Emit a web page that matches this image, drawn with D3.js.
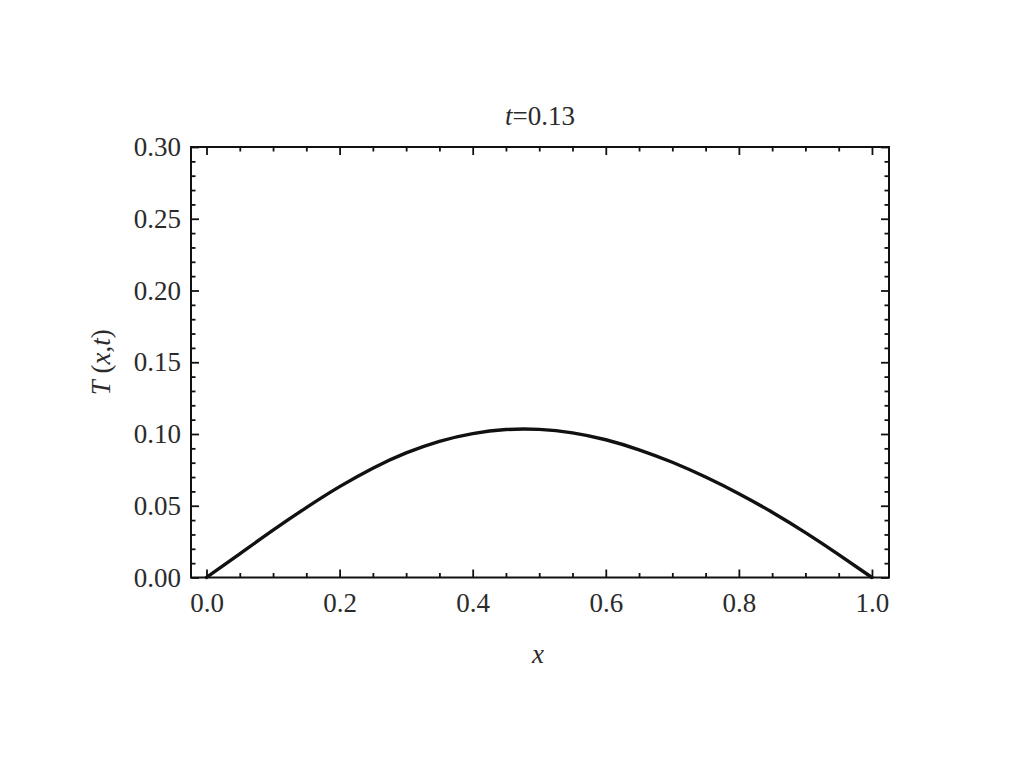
<!DOCTYPE html>
<html>
<head>
<meta charset="utf-8">
<script src="https://cdn.jsdelivr.net/npm/d3@7"></script>
<style>
  html, body { margin: 0; padding: 0; background: #fff; }
  svg { display: block; }
  text { font-family: "Liberation Serif", "DejaVu Serif", serif; fill: #2b2b2b; }
</style>
</head>
<body>
<svg id="chart" width="1024" height="768"></svg>
<script>
// ---- data ----
const xValues = [0.00, 0.05, 0.10, 0.15, 0.20, 0.25, 0.30, 0.35, 0.40, 0.45, 0.50,
                 0.55, 0.60, 0.65, 0.70, 0.75, 0.80, 0.85, 0.90, 0.95, 1.00];
const tValues = [0.0000, 0.0165, 0.0330, 0.0487, 0.0633, 0.0762, 0.0868, 0.0949, 0.1003, 0.1031, 0.1032,
                 0.1008, 0.0960, 0.0890, 0.0803, 0.0700, 0.0584, 0.0455, 0.0313, 0.0160, 0.0000];
const xMajorTicks = [0.0, 0.2, 0.4, 0.6, 0.8, 1.0];
const xTickLabels = ["0.0", "0.2", "0.4", "0.6", "0.8", "1.0"];
const yMajorTicks = [0.00, 0.05, 0.10, 0.15, 0.20, 0.25, 0.30];
const yTickLabels = ["0.00", "0.05", "0.10", "0.15", "0.20", "0.25", "0.30"];
const xMinorTicks = [0.05, 0.10, 0.15, 0.25, 0.30, 0.35, 0.45, 0.50, 0.55, 0.65, 0.70, 0.75, 0.85, 0.90, 0.95];
const yMinorTicks = [0.01, 0.02, 0.03, 0.04, 0.06, 0.07, 0.08, 0.09, 0.11, 0.12, 0.13, 0.14,
                     0.16, 0.17, 0.18, 0.19, 0.21, 0.22, 0.23, 0.24, 0.26, 0.27, 0.28, 0.29];
const titleText = "0.13";

// ---- layout ----
const svg = d3.select("#chart");
const margin = { left: 191, right: 135, top: 147, bottom: 190.5 };
const W = 1024 - margin.left - margin.right;
const H = 768 - margin.top - margin.bottom;

const x = d3.scaleLinear().domain([-0.0233, 1.0256]).range([0, W]);
const y = d3.scaleLinear().domain([0, 0.30]).range([H, 0]);

const g = svg.append("g").attr("transform", `translate(${margin.left},${margin.top})`);

const FS = 27;
const majorLen = 8, minorLen = 4.5;

function styleAxis(sel) {
  sel.select(".domain").remove();
  sel.selectAll(".tick line").attr("stroke", "#111").attr("stroke-width", 1.8);
  sel.selectAll("text").style("font-size", FS + "px").attr("fill", "#2b2b2b");
}

// bottom axis (major with labels)
g.append("g").attr("transform", `translate(0,${H})`)
  .call(d3.axisBottom(x).tickValues(xMajorTicks).tickSizeInner(-majorLen).tickSizeOuter(0)
    .tickPadding(15).tickFormat((d, i) => xTickLabels[i]))
  .call(styleAxis);
g.append("g").attr("transform", `translate(0,${H})`)
  .call(d3.axisBottom(x).tickValues(xMinorTicks).tickSizeInner(-minorLen).tickSizeOuter(0).tickFormat(""))
  .call(styleAxis);
// top mirror
g.append("g")
  .call(d3.axisTop(x).tickValues(xMajorTicks).tickSizeInner(-majorLen).tickSizeOuter(0).tickFormat(""))
  .call(styleAxis);
g.append("g")
  .call(d3.axisTop(x).tickValues(xMinorTicks).tickSizeInner(-minorLen).tickSizeOuter(0).tickFormat(""))
  .call(styleAxis);
// left axis
g.append("g")
  .call(d3.axisLeft(y).tickValues(yMajorTicks).tickSizeInner(-majorLen).tickSizeOuter(0)
    .tickPadding(10).tickFormat((d, i) => yTickLabels[i]))
  .call(styleAxis);
g.append("g")
  .call(d3.axisLeft(y).tickValues(yMinorTicks).tickSizeInner(-minorLen).tickSizeOuter(0).tickFormat(""))
  .call(styleAxis);
// right mirror
g.append("g").attr("transform", `translate(${W},0)`)
  .call(d3.axisRight(y).tickValues(yMajorTicks).tickSizeInner(-majorLen).tickSizeOuter(0).tickFormat(""))
  .call(styleAxis);
g.append("g").attr("transform", `translate(${W},0)`)
  .call(d3.axisRight(y).tickValues(yMinorTicks).tickSizeInner(-minorLen).tickSizeOuter(0).tickFormat(""))
  .call(styleAxis);

// frame
g.append("rect").attr("x", 0).attr("y", 0).attr("width", W).attr("height", H)
  .attr("fill", "none").attr("stroke", "#111").attr("stroke-width", 2);

// curve
const pts = xValues.map((v, i) => [v, tValues[i]]);
g.append("path").datum(pts)
  .attr("fill", "none").attr("stroke", "#111").attr("stroke-width", 3.4)
  .attr("stroke-linejoin", "round").attr("stroke-linecap", "round")
  .attr("d", d3.line().x(d => x(d[0])).y(d => y(d[1])).curve(d3.curveNatural));

// title
const title = svg.append("text").attr("x", margin.left + W / 2).attr("y", 125)
  .attr("text-anchor", "middle").style("font-size", FS + "px");
title.append("tspan").style("font-style", "italic").text("t");
title.append("tspan").text("=" + titleText);

// x label
svg.append("text").attr("x", margin.left + W / 2 - 2).attr("y", 663)
  .attr("text-anchor", "middle").style("font-size", FS + "px").style("font-style", "italic").text("x");

// y label
const yl = svg.append("text")
  .attr("transform", `translate(110,${margin.top + H / 2}) rotate(-90)`)
  .attr("text-anchor", "middle").style("font-size", FS + "px");
yl.append("tspan").style("font-style", "italic").text("T");
yl.append("tspan").text(" (");
yl.append("tspan").style("font-style", "italic").text("x");
yl.append("tspan").text(",");
yl.append("tspan").style("font-style", "italic").text("t");
yl.append("tspan").text(")");
</script>
</body>
</html>
